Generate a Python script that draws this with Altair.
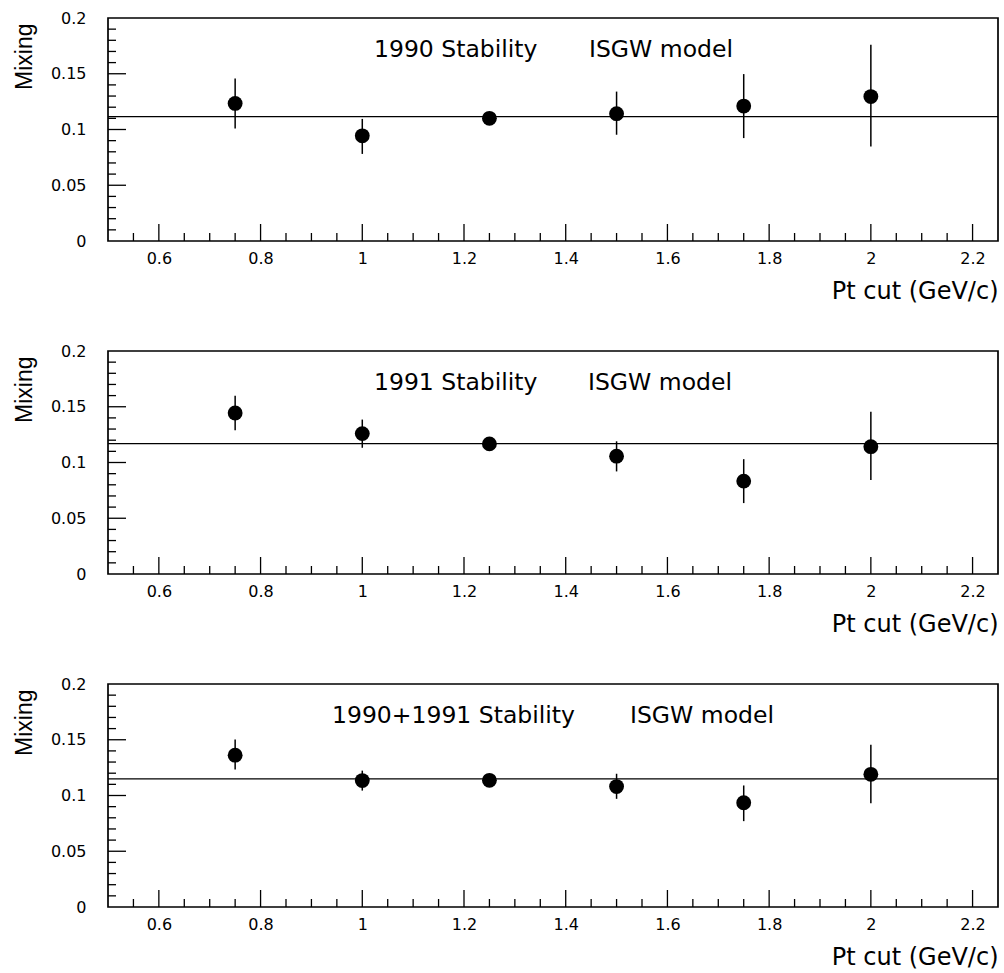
import altair as alt
import pandas as pd

# ---- data ----
pt = [0.75, 1.0, 1.25, 1.5, 1.75, 2.0]

mix_1990 = [0.1234, 0.0943, 0.1100, 0.1142, 0.1210, 0.1295]
lo_1990 = [0.1010, 0.0781, 0.1060, 0.0953, 0.0923, 0.0847]
hi_1990 = [0.1458, 0.1095, 0.1140, 0.1340, 0.1497, 0.1761]
fit_1990 = 0.1115

mix_1991 = [0.1444, 0.1259, 0.1167, 0.1057, 0.0833, 0.1142]
lo_1991 = [0.1290, 0.1132, 0.1130, 0.0920, 0.0636, 0.0843]
hi_1991 = [0.1598, 0.1385, 0.1200, 0.1190, 0.1030, 0.1455]
fit_1991 = 0.1170

mix_all = [0.1362, 0.1134, 0.1136, 0.1080, 0.0935, 0.1190]
lo_all = [0.1234, 0.1044, 0.1100, 0.0970, 0.0770, 0.0930]
hi_all = [0.1503, 0.1223, 0.1170, 0.1195, 0.1090, 0.1456]
fit_all = 0.1150

panel_titles = ["1990 Stability", "1991 Stability", "1990+1991 Stability"]
model_label = "ISGW model"

x_labels = [0.6, 0.8, 1.0, 1.2, 1.4, 1.6, 1.8, 2.0, 2.2]
x_minor = [0.55, 0.65, 0.7, 0.75, 0.85, 0.9, 0.95, 1.05, 1.1, 1.15, 1.25, 1.3,
           1.35, 1.45, 1.5, 1.55, 1.65, 1.7, 1.75, 1.85, 1.9, 1.95, 2.05, 2.1, 2.15]
y_labels = [0, 0.05, 0.1, 0.15, 0.2]
y_major = [0.05, 0.1, 0.15]
y_minor = [0.01, 0.02, 0.03, 0.04, 0.06, 0.07, 0.08, 0.09, 0.11, 0.12, 0.13,
           0.14, 0.16, 0.17, 0.18, 0.19]

W, H = 890, 223
FONT = "DejaVu Sans"

xscale = alt.Scale(domain=[0.5, 2.25], nice=False, zero=False)
yscale = alt.Scale(domain=[0, 0.2], nice=False, zero=False)

xaxis = alt.Axis(values=x_labels, format="~g", ticks=False, tickSize=0, domain=False,
                 grid=False, labelFontSize=16, labelPadding=9, labelFlush=False,
                 labelColor="black", labelFont=FONT,
                 title="Pt cut (GeV/c)", titleFont=FONT, titleFontSize=24,
                 titleFontWeight="normal", titleColor="black", titleAlign="right",
                 titleBaseline="alphabetic", titleX=W, titleY=57, titleAngle=0)
yaxis = alt.Axis(values=y_labels, format="~g", ticks=False, tickSize=0, domain=False,
                 grid=False, labelFontSize=16, labelPadding=22, labelFlush=False,
                 labelColor="black", labelFont=FONT,
                 title="Mixing", titleFont="Liberation Sans", titleFontSize=23,
                 titleFontWeight="normal", titleColor="black", titleAngle=270,
                 titleAlign="right", titleBaseline="alphabetic", titleX=-77, titleY=5)


def panel(mix, lo, hi, fit, title, title_px, model_px):
    df = pd.DataFrame({"pt": pt, "mix": mix, "lo": lo, "hi": hi})
    X = alt.X("pt:Q", scale=xscale, axis=xaxis)
    frame = alt.Chart(pd.DataFrame({"f": [0]})).mark_rect(
        fill=None, stroke="black", strokeWidth=1.7).encode(
        x=alt.value(0), x2=alt.value(W), y=alt.value(0), y2=alt.value(H))
    fit_line = alt.Chart(pd.DataFrame({"fit": [fit]})).mark_rule(
        color="black", strokeWidth=1.3).encode(
        y=alt.Y("fit:Q", scale=yscale, axis=yaxis), x=alt.value(0), x2=alt.value(W))
    bars = alt.Chart(df).mark_rule(color="black", strokeWidth=1.5).encode(
        x=X, y=alt.Y("lo:Q", scale=yscale, axis=yaxis), y2="hi:Q")
    pts = alt.Chart(df).mark_circle(color="black", opacity=1, size=220).encode(
        x=X, y=alt.Y("mix:Q", scale=yscale, axis=yaxis))
    xt_major = alt.Chart(pd.DataFrame({"t": x_labels})).mark_rule(
        color="black", strokeWidth=1.3).encode(
        x=alt.X("t:Q", scale=xscale, axis=xaxis), y=alt.value(H), y2=alt.value(H - 17))
    xt_minor = alt.Chart(pd.DataFrame({"t": x_minor})).mark_rule(
        color="black", strokeWidth=1.3).encode(
        x=alt.X("t:Q", scale=xscale, axis=xaxis), y=alt.value(H), y2=alt.value(H - 8))
    yt_major = alt.Chart(pd.DataFrame({"t": y_major})).mark_rule(
        color="black", strokeWidth=1.3).encode(
        y=alt.Y("t:Q", scale=yscale, axis=yaxis), x=alt.value(0), x2=alt.value(18))
    yt_minor = alt.Chart(pd.DataFrame({"t": y_minor})).mark_rule(
        color="black", strokeWidth=1.3).encode(
        y=alt.Y("t:Q", scale=yscale, axis=yaxis), x=alt.value(0), x2=alt.value(8))
    t1 = alt.Chart(pd.DataFrame({"label": [title]})).mark_text(
        align="left", baseline="alphabetic", fontSize=23.5, font=FONT, color="black").encode(
        x=alt.value(title_px), y=alt.value(39), text="label:N")
    t2 = alt.Chart(pd.DataFrame({"label": [model_label]})).mark_text(
        align="left", baseline="alphabetic", fontSize=23.5, font=FONT, color="black").encode(
        x=alt.value(model_px), y=alt.value(39), text="label:N")
    return alt.layer(frame, fit_line, bars, pts, xt_major, xt_minor, yt_major, yt_minor,
                     t1, t2).properties(width=W, height=H)


p1 = panel(mix_1990, lo_1990, hi_1990, fit_1990, panel_titles[0], 266, 481)
p2 = panel(mix_1991, lo_1991, hi_1991, fit_1991, panel_titles[1], 266, 480)
p3 = panel(mix_all, lo_all, hi_all, fit_all, panel_titles[2], 224, 522)

chart = alt.vconcat(p1, p2, p3, spacing=40).properties(
    padding={"left": 13, "top": 10, "right": 2, "bottom": 2},
    background="white"
).configure_view(stroke=None)

chart.save("out.html", embed_options={"renderer": "svg", "actions": False})
